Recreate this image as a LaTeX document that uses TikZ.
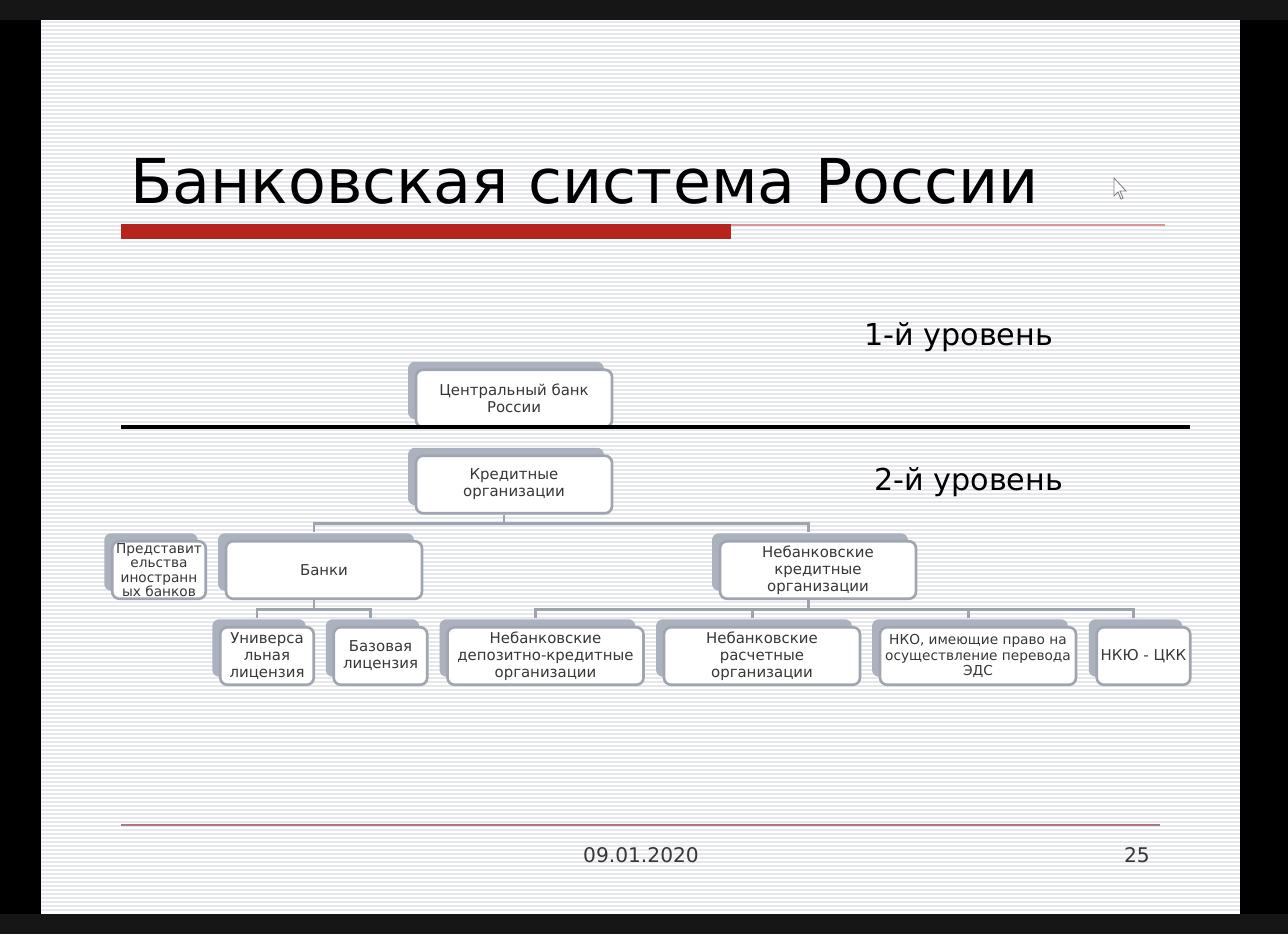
\documentclass[tikz,border=0pt]{standalone}
\usepackage{fontspec}
\setmainfont{DejaVu Sans}
\usetikzlibrary{shadows,calc}
\definecolor{boxgray}{RGB}{160,165,178}
\definecolor{shadowgray}{RGB}{172,177,190}
\definecolor{linkgray}{RGB}{158,163,176}
\definecolor{stripegray}{RGB}{229,231,237}
\definecolor{barred}{RGB}{183,36,30}
\definecolor{thinred}{RGB}{214,150,150}
\definecolor{footred}{RGB}{170,120,125}
\definecolor{textgray}{RGB}{55,55,55}
\definecolor{framegray}{RGB}{22,22,22}
\tikzstyle{org} = [rectangle, rounded corners=4pt, draw=boxgray, line width=1.5pt, fill=white, text=textgray, align=center, inner sep=0pt, minimum height=1.15cm, font=\fontsize{8.5}{9.6}\selectfont, general shadow={fill=shadowgray, shadow xshift=-0.16cm, shadow yshift=0.16cm}]
\tikzstyle{wide} = [minimum width=3.92cm]
\tikzstyle{narrow} = [minimum width=1.87cm]
\tikzstyle{link} = [draw=linkgray, line width=1.7pt]
\tikzstyle{stripe} = [stripegray, line width=0.75pt]

\begin{document}
\begin{tikzpicture}[x=0.02cm, y=-0.02cm]
				\useasboundingbox (0,0) rectangle (1288,934);
				% screen frame and slide
				\fill[black] (0,0) rectangle (1288,934);
				\fill[framegray] (0,0) rectangle (1288,20);
				\fill[framegray] (0,914) rectangle (1288,934);
				\fill[white] (41,20) rectangle (1240,914);
				\foreach \y in {22,26,...,910}
				\draw[stripe] (41,\y) -- (1240,\y);
				
				% title
				\node[anchor=base west, font=\fontsize{35.2}{40}\selectfont] (title) at (124,203) {Банковская система России};
				\fill[barred] (121,224) rectangle (731,239);
				\draw[thinred, line width=1.1pt] (731,225) -- (1165,225);
				\draw[gray, fill=white, line width=0.5pt] (1114,178) -- (1114,196) -- (1118,192) -- (1121,199) -- (1123,198) -- (1120,191) -- (1126,191) -- cycle;
				
				% levels
				\node[anchor=base west, font=\fontsize{17.2}{19}\selectfont] (lev1) at (858,345) {1-й уровень};
				\node[anchor=base west, font=\fontsize{17.2}{19}\selectfont] (lev2) at (868,490) {2-й уровень};
				
				% boxes
				\node[org, wide] (cbr) at (514,398.5) {Центральный банк\\России};
				\node[org, wide] (kred) at (514,484.5) {Кредитные\\организации};
				\node[org, narrow, font=\fontsize{7.8}{8.2}\selectfont] (repr) at (159,570) {Представит\\ельства\\иностранн\\ых банков};
				\node[org, wide] (bank) at (324,570) {Банки};
				\node[org, wide] (nko) at (818,570) {Небанковские\\кредитные\\организации};
				\node[org, narrow] (univ) at (267,656) {Универса\\льная\\лицензия};
				\node[org, narrow] (base) at (380.5,656) {Базовая\\лицензия};
				\node[org, wide] (ndko) at (545.5,656) {Небанковские\\депозитно-кредитные\\организации};
				\node[org, wide] (nro) at (762,656) {Небанковские\\расчетные\\организации};
				\node[org, wide, font=\fontsize{7.8}{9}\selectfont] (eds) at (978,656) {НКО, имеющие право на\\осуществление перевода\\ЭДС};
				\node[org, narrow] (ckk) at (1143.5,656) {НКЮ - ЦКК};
				
				% tree links
				\foreach \c in {bank,nko}
				\draw[link] ($(kred.south)+(-10,0)$) -- ++(0,9) -| ($(\c.north)+(-10,-8)$);
				\foreach \c in {univ,base}
				\draw[link] ($(bank.south)+(-10,0)$) -- ++(0,9) -| ($(\c.north)+(-10,-8)$);
				\foreach \c in {ndko,nro,eds,ckk}
				\draw[link] ($(nko.south)+(-10,0)$) -- ++(0,9) -| ($(\c.north)+(-10,-8)$);
				
				% level divider
				\draw[line width=2.3pt] (121,427) -- (1190,427);
				
				% footer
				\draw[footred, line width=0.8pt] (121,825) -- (1160,825);
				\node[anchor=base, text=textgray, font=\fontsize{11.5}{13}\selectfont] (date) at (641,862) {09.01.2020};
				\node[anchor=base east, text=textgray, font=\fontsize{11.5}{13}\selectfont] (page) at (1156,862) {25};
			\end{tikzpicture}
\end{document}
